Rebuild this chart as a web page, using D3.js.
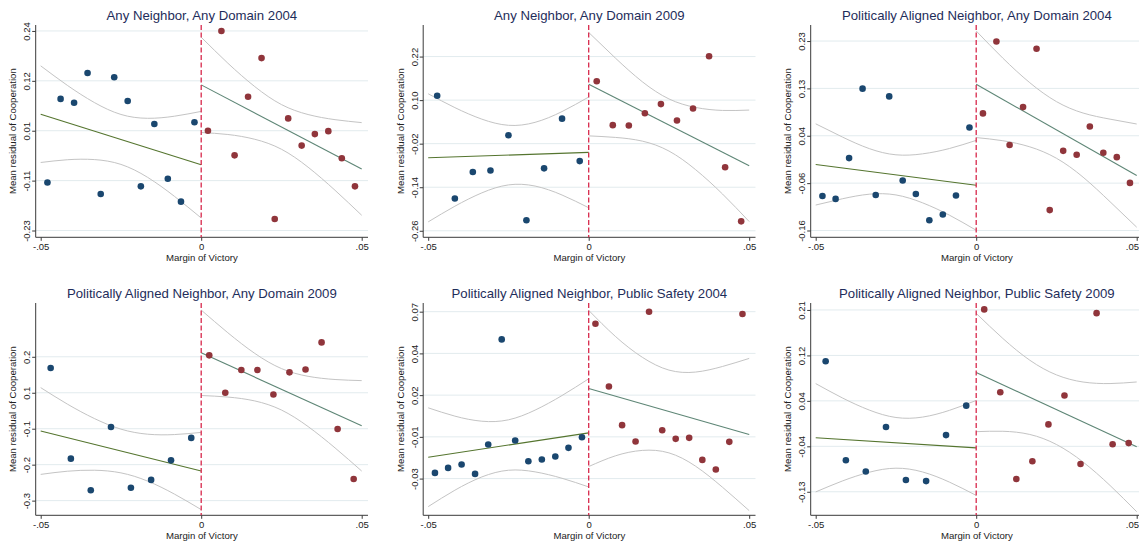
<!DOCTYPE html>
<html>
<head>
<meta charset="utf-8">
<script src="https://cdn.jsdelivr.net/npm/d3@7"></script>
<style>
  body { margin: 0; background: #fff; }
  svg { display: block; }
  text { font-family: "Liberation Sans", Arial, Helvetica, sans-serif; }
</style>
</head>
<body>
<svg id="chart" width="1139" height="545"></svg>
<script>
// ---- bin centres (margin of victory) ----
const binsLeft12  = [-0.0479, -0.0438, -0.0396, -0.0354, -0.0313, -0.0271, -0.0229, -0.0188, -0.0146, -0.0104, -0.0063, -0.0021];
const binsRight12 = [0.0021, 0.0063, 0.0104, 0.0146, 0.0188, 0.0229, 0.0271, 0.0313, 0.0354, 0.0396, 0.0438, 0.0479];
const binsLeft9   = [-0.0472, -0.0417, -0.0361, -0.0306, -0.0250, -0.0194, -0.0139, -0.0083, -0.0028];
const binsRight10 = [0.0025, 0.0075, 0.0125, 0.0175, 0.0225, 0.0275, 0.0325, 0.0375, 0.0425, 0.0475];
const binsLeft8   = [-0.0469, -0.0406, -0.0344, -0.0281, -0.0219, -0.0156, -0.0094, -0.0031];

// x positions where the confidence band half-widths are recorded
const bandXLeft  = [-0.05, -0.0417, -0.0333, -0.025, -0.0167, -0.0083, 0];
const bandXRight = [0, 0.0083, 0.0167, 0.025, 0.0333, 0.0417, 0.05];

const xTicks = [-0.05, 0, 0.05];
const xTickLabels = ["-.05", "0", ".05"];

// ---- panel 1 ----
const p1Title = "Any Neighbor, Any Domain 2004";
const p1Left  = [-0.117, 0.080, 0.071, 0.141, -0.144, 0.131, 0.075, -0.126, 0.021, -0.108, -0.162, 0.025];
const p1Right = [0.005, 0.240, -0.053, 0.085, 0.176, -0.203, 0.034, -0.030, -0.003, 0.004, -0.060, -0.126];
const p1FitLeft = [0.044, -0.075];
const p1FitRight = [0.113, -0.085];
const p1BandLeft = [0.1138, 0.0876, 0.0672, 0.0588, 0.0695, 0.0945, 0.1255];
const p1BandRight = [0.1122, 0.0840, 0.0620, 0.0526, 0.0620, 0.0832, 0.1091];
const p1YTicks = [-0.23, -0.1125, 0.005, 0.1225, 0.24];
const p1YLabels = ["-0.23", "-0.11", "0.01", "0.12", "0.24"];
const p1YRange = [-0.246, 0.254];

// ---- panel 2 ----
const p2Title = "Any Neighbor, Any Domain 2009";
const p2Left  = [0.112, -0.171, -0.098, -0.094, 0.003, -0.231, -0.088, 0.049, -0.068];
const p2Right = [0.152, 0.031, 0.030, 0.064, 0.089, 0.044, 0.077, 0.221, -0.085, -0.234];
const p2FitLeft = [-0.059, -0.044];
const p2FitRight = [0.144, -0.081];
const p2BandLeft = [0.1765, 0.1359, 0.1016, 0.0821, 0.0878, 0.1150, 0.1526];
const p2BandRight = [0.1425, 0.1094, 0.0818, 0.0718, 0.0857, 0.1152, 0.1536];
const p2YTicks = [-0.26, -0.14, -0.02, 0.10, 0.22];
const p2YLabels = ["-0.26", "-0.14", "-0.02", "0.10", "0.22"];
const p2YRange = [-0.278, 0.307];

// ---- panel 3 ----
const p3Title = "Politically Aligned Neighbor, Any Domain 2004";
const p3Left  = [-0.089, -0.095, -0.011, 0.132, -0.087, 0.116, -0.057, -0.085, -0.139, -0.127, -0.088, 0.052];
const p3Right = [0.081, 0.229, 0.016, 0.094, 0.214, -0.118, 0.004, -0.004, 0.054, 0.000, -0.009, -0.062];
const p3FitLeft = [-0.024, -0.067];
const p3FitRight = [0.141, -0.047];
const p3BandLeft = [0.0836, 0.0636, 0.0469, 0.0413, 0.0504, 0.0687, 0.0925];
const p3BandRight = [0.1097, 0.0850, 0.0660, 0.0583, 0.0660, 0.0850, 0.1062];
const p3YTicks = [-0.16, -0.0625, 0.035, 0.1325, 0.23];
const p3YLabels = ["-0.16", "-0.06", "0.04", "0.13", "0.23"];
const p3YRange = [-0.174, 0.263];

// ---- panel 4 ----
const p4Title = "Politically Aligned Neighbor, Any Domain 2009";
const p4Left  = [0.161, -0.154, -0.264, -0.044, -0.255, -0.228, -0.160, -0.082];
const p4Right = [0.205, 0.075, 0.154, 0.154, 0.069, 0.146, 0.156, 0.250, -0.051, -0.225];
const p4FitLeft = [-0.058, -0.197];
const p4FitRight = [0.214, -0.040];
const p4BandLeft = [0.1508, 0.1167, 0.0899, 0.0760, 0.0815, 0.1036, 0.1342];
const p4BandRight = [0.1485, 0.1118, 0.0826, 0.0720, 0.0873, 0.1189, 0.1572];
const p4YTicks = [-0.3, -0.175, -0.05, 0.075, 0.2];
const p4YLabels = ["-0.3", "-0.2", "-0.1", "0.1", "0.2"];
const p4YRange = [-0.351, 0.387];

// ---- panel 5 ----
const p5Title = "Politically Aligned Neighbor, Public Safety 2004";
const p5Left  = [-0.0266, -0.0236, -0.0216, -0.0272, -0.0096, 0.0534, -0.0072, -0.0196, -0.0186, -0.0168, -0.0116, -0.0052];
const p5Right = [0.0628, 0.0252, 0.0020, -0.0078, 0.0700, -0.0010, -0.0062, -0.0056, -0.0188, -0.0246, -0.0080, 0.0686];
const p5FitLeft = [-0.0172, -0.0026];
const p5FitRight = [0.0240, -0.0036];
const p5BandLeft = [0.0296, 0.0222, 0.0167, 0.0151, 0.0185, 0.0248, 0.0324];
const p5BandRight = [0.0468, 0.0358, 0.0279, 0.0248, 0.0282, 0.0362, 0.0456];
const p5YTicks = [-0.03, -0.005, 0.02, 0.045, 0.07];
const p5YLabels = ["-0.03", "-0.01", "0.02", "0.04", "0.07"];
const p5YRange = [-0.052, 0.0752];

// ---- panel 6 ----
const p6Title = "Politically Aligned Neighbor, Public Safety 2009";
const p6Left  = [0.114, -0.071, -0.092, -0.009, -0.108, -0.110, -0.024, 0.031];
const p6Right = [0.211, 0.056, -0.106, -0.073, -0.004, 0.050, -0.078, 0.204, -0.041, -0.039];
const p6FitLeft = [-0.029, -0.048];
const p6FitRight = [0.093, -0.046];
const p6BandLeft = [0.1013, 0.0777, 0.0581, 0.0474, 0.0513, 0.0672, 0.0888];
const p6BandRight = [0.1106, 0.0868, 0.0694, 0.0651, 0.0748, 0.0953, 0.1213];
const p6YTicks = [-0.13, -0.045, 0.04, 0.125, 0.21];
const p6YLabels = ["-0.13", "-0.04", "0.04", "0.12", "0.21"];
const p6YRange = [-0.174, 0.223];

const xTitle = "Margin of Victory";
const yTitle = "Mean residual of Cooperation";

const panels = [
  {title: p1Title, xl: binsLeft12, yl: p1Left, xr: binsRight12, yr: p1Right, fitL: p1FitLeft, fitR: p1FitRight, bandL: p1BandLeft, bandR: p1BandRight, ticks: p1YTicks, labels: p1YLabels, range: p1YRange},
  {title: p2Title, xl: binsLeft9,  yl: p2Left, xr: binsRight10, yr: p2Right, fitL: p2FitLeft, fitR: p2FitRight, bandL: p2BandLeft, bandR: p2BandRight, ticks: p2YTicks, labels: p2YLabels, range: p2YRange},
  {title: p3Title, xl: binsLeft12, yl: p3Left, xr: binsRight12, yr: p3Right, fitL: p3FitLeft, fitR: p3FitRight, bandL: p3BandLeft, bandR: p3BandRight, ticks: p3YTicks, labels: p3YLabels, range: p3YRange},
  {title: p4Title, xl: binsLeft8,  yl: p4Left, xr: binsRight10, yr: p4Right, fitL: p4FitLeft, fitR: p4FitRight, bandL: p4BandLeft, bandR: p4BandRight, ticks: p4YTicks, labels: p4YLabels, range: p4YRange},
  {title: p5Title, xl: binsLeft12, yl: p5Left, xr: binsRight12, yr: p5Right, fitL: p5FitLeft, fitR: p5FitRight, bandL: p5BandLeft, bandR: p5BandRight, ticks: p5YTicks, labels: p5YLabels, range: p5YRange},
  {title: p6Title, xl: binsLeft8,  yl: p6Left, xr: binsRight10, yr: p6Right, fitL: p6FitLeft, fitR: p6FitRight, bandL: p6BandLeft, bandR: p6BandRight, ticks: p6YTicks, labels: p6YLabels, range: p6YRange}
];

// ---- layout ----
const W = 1139;
const colX = [0, 387.5, 775];
const rowY = [0, 278];
const axisX = 35.7, plotRight = 368, plotTop = 25, plotBottom = 237.3;
const xPixLo = 40.7, xPixHi = 361.7;

const colors = {
  left: "#1a476f", right: "#90353b",
  fitLeft: "#55752f", fitRight: "#5e8676",
  band: "#c4c4c4", cutoff: "#d8294c",
  grid: "#e2ebee", axis: "#3a3a3a", title: "#1e2d5a", text: "#222"
};

const svg = d3.select("#chart");
svg.append("rect").attr("width", W).attr("height", 545).attr("fill", "#fff");

panels.forEach((p, i) => {
  const ox = colX[i % 3];
  const g = svg.append("g")
    .attr("transform", `translate(${ox},${rowY[Math.floor(i / 3)]})`);

  const x = d3.scaleLinear().domain([-0.05, 0.05]).range([xPixLo, xPixHi]);
  const y = d3.scaleLinear().domain(p.range).range([plotBottom, plotTop]);

  // grid lines
  g.append("g").selectAll("line").data(p.ticks).join("line")
    .attr("x1", axisX).attr("x2", plotRight)
    .attr("y1", d => y(d)).attr("y2", d => y(d))
    .attr("stroke", colors.grid).attr("stroke-width", 1);

  // y axis
  const yAxis = g.append("g").attr("transform", `translate(${axisX},0)`)
    .call(d3.axisLeft(y).tickValues(p.ticks)
      .tickFormat((d, k) => p.labels[k]).tickSize(3.5).tickSizeOuter(0));
  yAxis.select(".domain").remove();
  yAxis.selectAll(".tick line").attr("stroke", colors.axis);
  yAxis.selectAll(".tick text")
    .attr("transform", "rotate(-90)")
    .attr("x", 0).attr("y", -5.5).attr("dy", null)
    .attr("text-anchor", "middle")
    .attr("font-size", 9.5).attr("fill", colors.text);
  g.append("line").attr("x1", axisX).attr("x2", axisX)
    .attr("y1", plotTop).attr("y2", plotBottom)
    .attr("stroke", colors.axis).attr("stroke-width", 1);

  // x axis
  const xAxis = g.append("g").attr("transform", `translate(0,${plotBottom})`)
    .call(d3.axisBottom(x).tickValues(xTicks)
      .tickFormat((d, k) => xTickLabels[k]).tickSize(3.5).tickSizeOuter(0));
  xAxis.select(".domain").remove();
  xAxis.selectAll(".tick line").attr("stroke", colors.axis);
  xAxis.selectAll(".tick text")
    .attr("y", 13).attr("dy", null)
    .attr("font-size", 9.5).attr("fill", colors.text);
  // keep a tick label that would run past the right edge of the figure inside it
  xAxis.selectAll(".tick text").each(function (d) {
    const right = ox + x(d) + this.getComputedTextLength() / 2;
    if (right > W - 0.5) {
      d3.select(this).attr("text-anchor", "end").attr("x", W - 0.5 - ox - x(d));
    }
  });
  g.append("line").attr("x1", axisX).attr("x2", plotRight)
    .attr("y1", plotBottom).attr("y2", plotBottom)
    .attr("stroke", colors.axis).attr("stroke-width", 1);

  // axis titles
  g.append("text").attr("x", (axisX + plotRight) / 2).attr("y", plotBottom + 24)
    .attr("text-anchor", "middle").attr("font-size", 9.6).attr("fill", colors.text)
    .text(xTitle);
  g.append("text")
    .attr("transform", `translate(16,${(plotTop + plotBottom) / 2}) rotate(-90)`)
    .attr("text-anchor", "middle").attr("font-size", 9.6).attr("fill", colors.text)
    .text(yTitle);

  // title
  g.append("text").attr("x", (axisX + plotRight) / 2).attr("y", 19.5)
    .attr("text-anchor", "middle").attr("font-size", 13.2).attr("fill", colors.title)
    .text(p.title);

  // confidence bands and linear fits on both sides of the cutoff
  const sides = [
    {fit: p.fitL, band: p.bandL, bx: bandXLeft, lo: -0.05, hi: 0, col: colors.fitLeft},
    {fit: p.fitR, band: p.bandR, bx: bandXRight, lo: 0, hi: 0.05, col: colors.fitRight}
  ];
  const curve = d3.line().x(d => x(d[0])).y(d => y(d[1])).curve(d3.curveNatural);
  sides.forEach(s => {
    const fitAt = d3.scaleLinear().domain([s.lo, s.hi]).range(s.fit);
    const upper = s.bx.map((v, k) => [v, fitAt(v) + s.band[k]]);
    const lower = s.bx.map((v, k) => [v, fitAt(v) - s.band[k]]);
    [upper, lower].forEach(pts => {
      g.append("path").attr("d", curve(pts))
        .attr("fill", "none").attr("stroke", colors.band).attr("stroke-width", 1);
    });
    g.append("line")
      .attr("x1", x(s.lo)).attr("y1", y(s.fit[0]))
      .attr("x2", x(s.hi)).attr("y2", y(s.fit[1]))
      .attr("stroke", s.col).attr("stroke-width", 1.1);
  });

  // binned means
  g.append("g").selectAll("circle").data(d3.zip(p.xl, p.yl)).join("circle")
    .attr("cx", d => x(d[0])).attr("cy", d => y(d[1])).attr("r", 3.3)
    .attr("fill", colors.left);
  g.append("g").selectAll("circle").data(d3.zip(p.xr, p.yr)).join("circle")
    .attr("cx", d => x(d[0])).attr("cy", d => y(d[1])).attr("r", 3.3)
    .attr("fill", colors.right);

  // cutoff
  g.append("line").attr("x1", x(0)).attr("x2", x(0))
    .attr("y1", plotTop).attr("y2", plotBottom)
    .attr("stroke", colors.cutoff).attr("stroke-width", 1.3)
    .attr("stroke-dasharray", "5,2.5");
});
</script>
</body>
</html>
